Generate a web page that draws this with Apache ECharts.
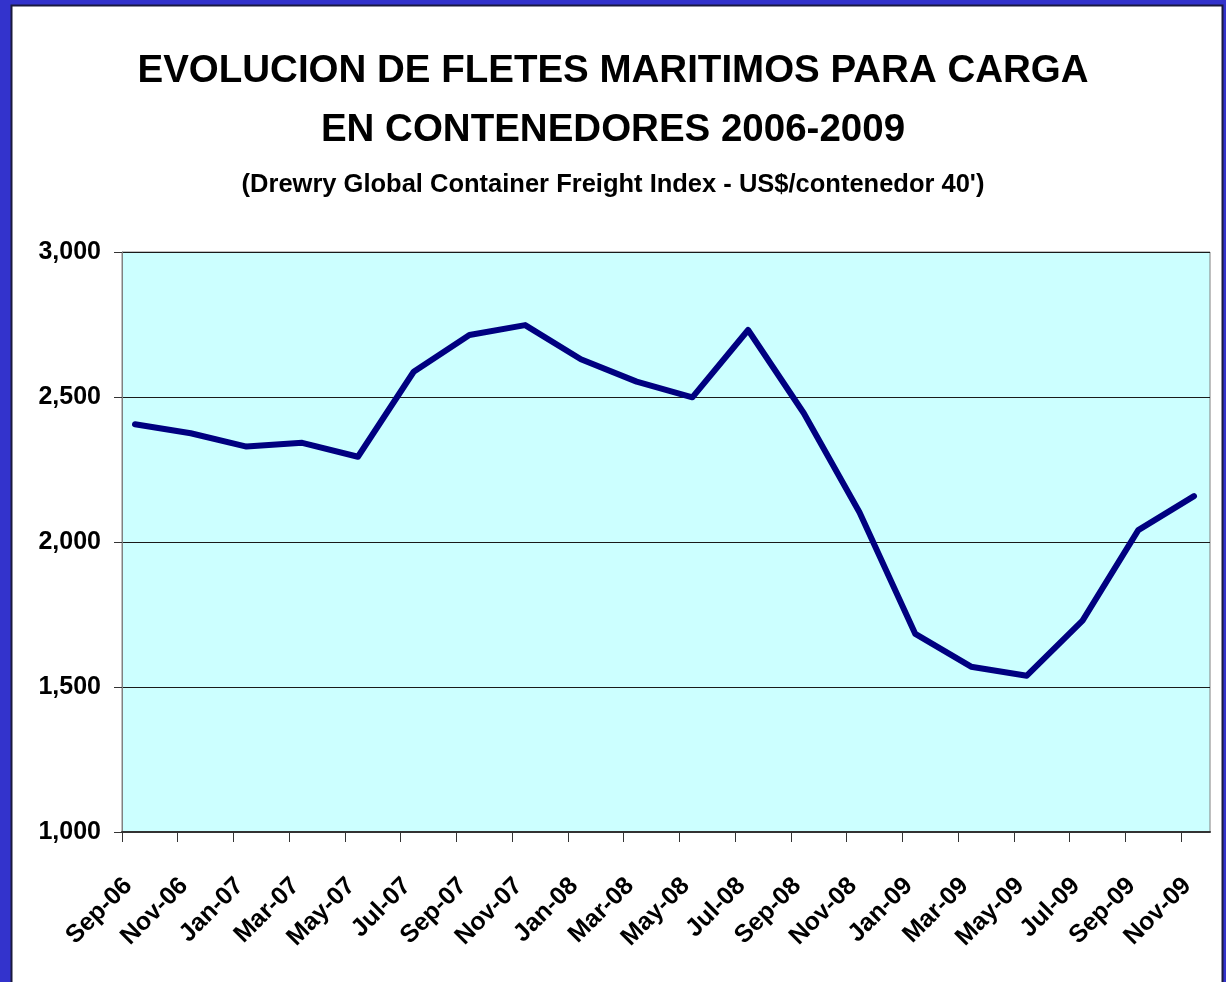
<!DOCTYPE html>
<html>
<head>
<meta charset="utf-8">
<title>Evolucion de fletes maritimos</title>
<script src="https://cdn.jsdelivr.net/npm/echarts@6/dist/echarts.min.js"></script>
<style>
  html, body { margin: 0; padding: 0; background: #3333cc; }
  #chart { width: 1226px; height: 982px; }
</style>
</head>
<body>
<div id="chart"></div>
<script>
// meses (cada dos meses)
var months = [
  "Sep-06", "Nov-06", "Jan-07", "Mar-07", "May-07", "Jul-07", "Sep-07",
  "Nov-07", "Jan-08", "Mar-08", "May-08", "Jul-08", "Sep-08", "Nov-08",
  "Jan-09", "Mar-09", "May-09", "Jul-09", "Sep-09", "Nov-09"
];
// US$/contenedor 40'
var freight = [
  2406, 2375, 2329, 2342, 2294, 2587, 2714,
  2748, 2630, 2553, 2499, 2731, 2444, 2102,
  1683, 1570, 1539, 1729, 2041, 2158
];
var yTicks = [1000, 1500, 2000, 2500, 3000];

var font = "'Liberation Sans', Arial, sans-serif";

var points = freight.map(function (v, i) { return [i, v]; });
// ticks sit between points, like the excel date axis
var tickPos = months.map(function (m, i) { return i - 0.233; });
var labelPos = months.map(function (m, i) { return i - 0.12; });

var chart = echarts.init(document.getElementById("chart"));

var option = {
  backgroundColor: "#3333cc",
  animation: false,
  graphic: [
    {
      type: "rect",
      shape: { x: 11.5, y: 5.5, width: 1211, height: 1000 },
      style: { fill: "#ffffff", stroke: "#1a1a40", lineWidth: 2 },
      z: -10
    }
  ],
  title: [
    {
      text: "EVOLUCION DE FLETES MARITIMOS PARA CARGA\nEN CONTENEDORES 2006-2009",
      left: "center",
      top: 37,
      textStyle: {
        fontFamily: font,
        fontWeight: "bold",
        fontSize: 38.5,
        lineHeight: 59,
        color: "#000"
      }
    },
    {
      text: "(Drewry Global Container Freight Index - US$/contenedor 40')",
      left: "center",
      top: 167,
      textStyle: {
        fontFamily: font,
        fontWeight: "bold",
        fontSize: 25.5,
        color: "#000"
      }
    }
  ],
  grid: {
    left: 122,
    top: 252,
    right: 16,
    bottom: 150,
    show: true,
    backgroundColor: "#ccffff",
    borderColor: "#808080",
    borderWidth: 1
  },
  xAxis: {
    type: "value",
    min: -0.233,
    max: 19.287,
    splitLine: { show: false },
    axisLine: { show: true, onZero: false, lineStyle: { color: "#333", width: 2 } },
    axisTick: {
      show: true,
      length: 10,
      customValues: tickPos,
      lineStyle: { color: "#333", width: 1 }
    },
    axisLabel: {
      customValues: labelPos,
      rotate: 45,
      margin: 50,
      fontFamily: font,
      fontWeight: "bold",
      fontSize: 25,
      color: "#000",
      formatter: function (v) { return months[Math.round(v)] || ""; }
    }
  },
  yAxis: {
    type: "value",
    min: yTicks[0],
    max: yTicks[yTicks.length - 1],
    interval: yTicks[1] - yTicks[0],
    axisLine: { show: true, onZero: false, lineStyle: { color: "#808080", width: 1 } },
    axisTick: { show: true, length: 8, lineStyle: { color: "#333" } },
    splitLine: { show: true, lineStyle: { color: "#1a1a1a", width: 1 } },
    axisLabel: {
      margin: 21,
      fontFamily: font,
      fontWeight: "bold",
      fontSize: 25,
      color: "#000",
      formatter: function (v) { return v.toLocaleString("en-US"); }
    }
  },
  series: [
    {
      name: "Drewry",
      type: "line",
      data: points,
      showSymbol: false,
      symbol: "none",
      lineStyle: { color: "#000080", width: 6, cap: "round", join: "round" }
    }
  ]
};

chart.setOption(option);
</script>
</body>
</html>
